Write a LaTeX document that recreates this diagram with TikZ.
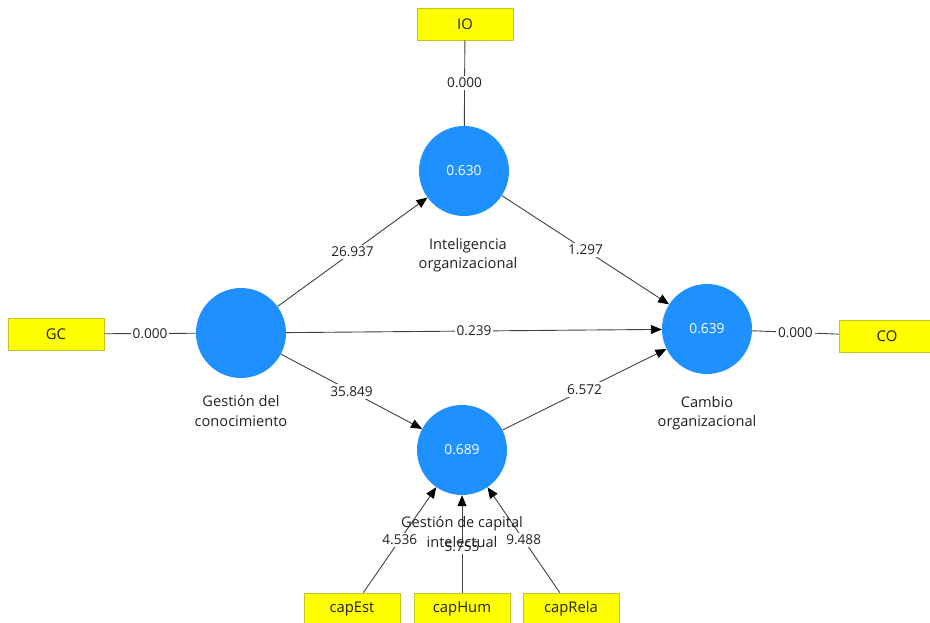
\documentclass[tikz,border=0pt]{standalone}
\usepackage{fontspec}
\setmainfont{Open Sans}
\usetikzlibrary{arrows.meta}
\definecolor{lvblue}{RGB}{30,144,255}
\definecolor{mvyellow}{RGB}{255,255,0}
\definecolor{mvedge}{RGB}{196,196,40}
\definecolor{pathgray}{RGB}{64,64,64}
\definecolor{txt}{RGB}{32,32,32}
\begin{document}
\begin{tikzpicture}[x=1pt,y=-1pt,
  latent/.style={circle, fill=lvblue, minimum size=90pt, inner sep=0pt,
    text=white, font=\fontsize{13.8}{15}\selectfont},
  manifest/.style={rectangle, fill=mvyellow, draw=mvedge, line width=0.8pt,
    minimum width=96pt, minimum height=32pt, inner sep=0pt, text=txt,
    font=\fontsize{14.8}{16}\selectfont},
  caption/.style={align=center, text=txt, inner sep=0pt,
    font=\fontsize{14.6}{19.5}\selectfont},
  coef/.style={fill=white, inner sep=2pt, text=txt,
    font=\fontsize{13.6}{16}\selectfont},
  structural/.style={draw=pathgray, line width=0.9pt,
    -{Triangle[length=11pt,width=9pt,color=black]}},
  outer/.style={draw=pathgray, line width=0.9pt}
]
\useasboundingbox (0,0) rectangle (930,622);

% latent variables
\node[latent] (gc)  at (241,333) {};
\node[latent] (io)  at (464,171) {0.630};
\node[latent] (co)  at (707,329) {0.639};
\node[latent] (gci) at (462,450) {0.689};

% indicators
\node[manifest] (gcbox)  at (56,334)  {GC};
\node[manifest] (iobox)  at (465,24)  {IO};
\node[manifest] (cobox)  at (887,336) {CO};
\node[manifest] (capest) at (352,609) {capEst};
\node[manifest] (caphum) at (462,609) {capHum};
\node[manifest] (caprela) at (571,609) {capRela};

% outer model links
\draw[outer] (gcbox) -- node[coef] {0.000} (gc);
\draw[outer] (iobox) -- node[coef] {0.000} (io);
\draw[outer] (co) -- node[coef] {0.000} (cobox);
\draw[structural] (capest) -- node[coef] {4.536} (gci);
\draw[structural] (caphum) -- node[coef, pos=0.47] {5.755} (gci);
\draw[structural] (caprela) -- node[coef] {9.488} (gci);

% inner model paths
\draw[structural] (gc) -- node[coef] {26.937} (io);
\draw[structural] (gc) -- node[coef] {0.239} (co);
\draw[structural] (gc) -- node[coef] {35.849} (gci);
\draw[structural] (io) -- node[coef] {1.297} (co);
\draw[structural] (gci) -- node[coef] {6.572} (co);

% construct names
\node[caption] (gccap)  at (241,411) {Gestión del\\conocimiento};
\node[caption] (iocap)  at (468,255) {Inteligencia\\organizacional};
\node[caption] (cocap)  at (707,413) {Cambio\\organizacional};
\node[caption] (gcicap) at (462,532) {Gestión de capital\\intelectual};
\end{tikzpicture}
\end{document}
